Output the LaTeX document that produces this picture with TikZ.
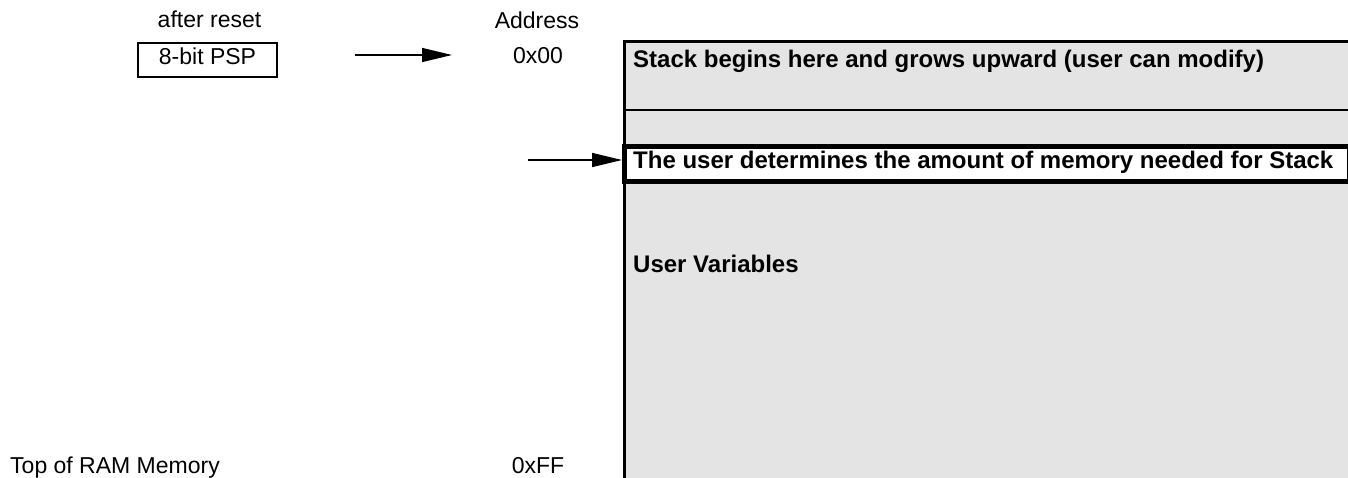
\documentclass[tikz,border=0pt]{standalone}
\usepackage{fontspec}
\setmainfont{Liberation Sans}
\usetikzlibrary{arrows.meta}
\definecolor{ramgray}{RGB}{228,228,228}
\begin{document}
\begin{tikzpicture}[x=1pt,y=-1pt,
  lbl/.style={inner sep=0pt, font=\fontsize{23}{27}\selectfont},
  blbl/.style={inner sep=0pt, font=\fontsize{24}{28}\selectfont\bfseries},
  arr/.style={line width=1.5pt, -{Triangle[length=30pt,width=14pt]}}]
\useasboundingbox (0,0) rectangle (1348,477);
% left column
\node[lbl, anchor=base] (after) at (209.5,27) {after reset};
\node[lbl, draw, line width=2pt, anchor=north west, minimum width=139pt,
      text height=21pt, text depth=13pt] (psp) at (137,42) {8-bit PSP};
\node[lbl, anchor=base] (addr) at (537,28) {Address};
\node[lbl, anchor=base] (a00) at (538,63) {0x00};
\coordinate (a1s) at (355,55);
\coordinate (a1e) at (452,55);
\draw[arr] (a1s) -- (a1e);
% memory region
\fill[ramgray] (624.5,41.7) rectangle (1350,480);
\draw[line width=2.5pt] (624.5,480) -- (624.5,41.7) -- (1350,41.7);
\draw[line width=2pt] (624.5,110) -- (1350,110);
\node[blbl, anchor=base west] (stk) at (633,67) {Stack begins here and grows upward (user can modify)};
\node[draw, line width=5pt, fill=white, minimum width=725pt, minimum height=35pt, inner sep=0pt] (hl) at (987,163.5) {};
\node[blbl, anchor=base west] (usr) at (633,168) {The user determines the amount of memory needed for Stack};
\coordinate (a2s) at (528,160);
\draw[arr] (a2s) -- (a2s -| hl.west);
\node[blbl, anchor=base west] (uv) at (633,272) {User Variables};
% bottom
\node[lbl, anchor=base west] (top) at (10,473) {Top of RAM Memory};
\node[lbl, anchor=base] (aff) at (538,473) {0xFF};
\end{tikzpicture}
\end{document}
